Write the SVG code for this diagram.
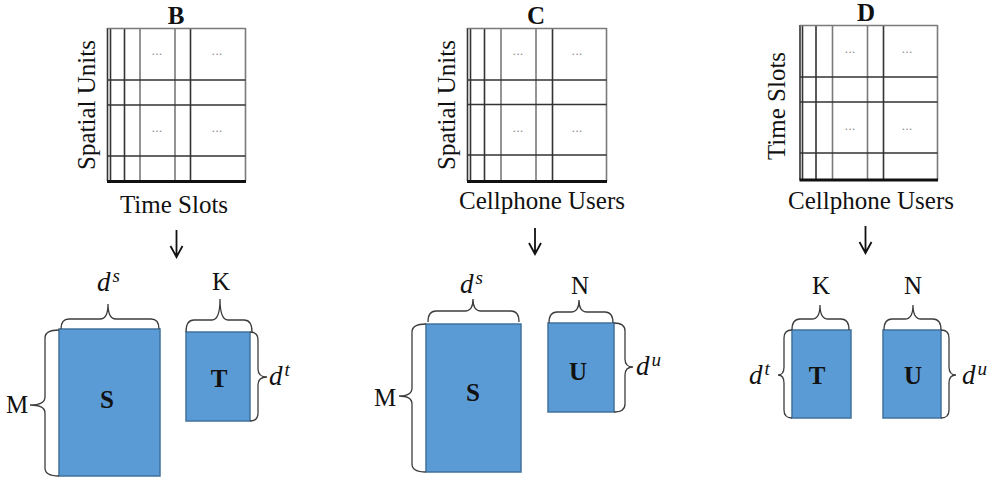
<svg xmlns="http://www.w3.org/2000/svg" width="1001" height="483" viewBox="0 0 1001 483">
  <style>
    .lbl { font-family: "Liberation Serif", "Times New Roman", serif; fill: #111; }
    .axis { font-size: 25px; }
    .title { font-size: 25px; font-weight: bold; text-anchor: middle; }
    .dim { font-size: 25px; text-anchor: middle; }
    .var { font-size: 27px; font-style: italic; }
    .sup { font-size: 19px; font-style: italic; }
    .mat { font-size: 25px; font-weight: bold; text-anchor: middle; }
    .dots { font-family: "Liberation Sans", Arial, sans-serif; font-size: 13px; fill: #8a8a8a; text-anchor: middle; }
    .gd { stroke: #333; stroke-width: 1.6; fill: none; }
    .gl { stroke: #7a7a7a; stroke-width: 1.6; fill: none; }
    .gb { stroke: #111; stroke-width: 3; fill: none; }
    .block { fill: #5b9bd5; stroke: #41719c; stroke-width: 1.5; }
    .brace { fill: none; stroke: #3c3c3c; stroke-width: 1.3; }
    .arrow { fill: none; stroke: #111; stroke-width: 1.8; }
  </style>

  <!-- ===== Panel B: spatial units x time slots ===== -->
  <g id="grid-b">
    <text class="lbl title" x="176" y="24">B</text>
    <path class="gd" d="M107.5 28 V181 M110.5 28 V181 M124.5 28 V181 M190.5 28 V181"/>
    <path class="gl" d="M140 28 V181 M175 28 V181 M245.5 28 V181 M107.5 28.5 H245.5"/>
    <path class="gd" d="M107.5 80 H245.5 M107.5 105 H245.5 M107.5 156 H245.5"/>
    <path class="gb" d="M107 181.5 H246"/>
    <text class="dots" x="157" y="55">...</text>
    <text class="dots" x="217" y="55">...</text>
    <text class="dots" x="157" y="132">...</text>
    <text class="dots" x="217" y="132">...</text>
    <text class="lbl axis" text-anchor="middle" transform="translate(95 105) rotate(-90)">Spatial Units</text>
    <text class="lbl axis" x="174" y="213" text-anchor="middle">Time Slots</text>
  </g>

  <g id="matrix-b-s">
    <rect class="block" x="59" y="329" width="101" height="147"/>
    <text class="lbl mat" x="107" y="408">S</text>
    <path class="brace" d="M61 329 Q61 319 69 319 H100 Q108 319 108 304 Q108 319 116 319 H151 Q159 319 159 329"/>
    <text class="lbl var" x="97" y="291">d<tspan class="sup" dx="2" dy="-9">s</tspan></text>
    <path class="brace" d="M59 330 Q45 330 45 338 V397 Q45 405 30 405 Q45 405 45 413 V468 Q45 476 59 476"/>
    <text class="lbl dim" x="17" y="413">M</text>
  </g>

  <g id="matrix-b-t">
    <rect class="block" x="186" y="332" width="64" height="89"/>
    <text class="lbl mat" x="219" y="387">T</text>
    <path class="brace" d="M186 332 Q186 320 194 320 H212 Q220 320 220 299 Q220 320 228 320 H244 Q252 320 252 332"/>
    <text class="lbl dim" x="221" y="290">K</text>
    <path class="brace" d="M250 332 Q258 332 258 340 V369 Q258 377 267 377 Q258 377 258 385 V413 Q258 421 250 421"/>
    <text class="lbl var" x="269" y="385">d<tspan class="sup" dx="2" dy="-9">t</tspan></text>
  </g>

  <!-- ===== Panel C: spatial units x cellphone users ===== -->
  <g id="grid-c">
    <text class="lbl title" x="536" y="24">C</text>
    <path class="gd" d="M467.5 28 V181 M470.5 28 V181 M484.5 28 V181 M552.5 28 V181"/>
    <path class="gl" d="M501 28 V181 M536 28 V181 M606.5 28 V181 M467.5 28.5 H606.5"/>
    <path class="gd" d="M467.5 80 H606.5 M467.5 104.5 H606.5 M467.5 155 H606.5"/>
    <path class="gb" d="M467 181.5 H607"/>
    <text class="dots" x="518" y="55">...</text>
    <text class="dots" x="577" y="55">...</text>
    <text class="dots" x="518" y="132">...</text>
    <text class="dots" x="577" y="132">...</text>
    <text class="lbl axis" text-anchor="middle" transform="translate(455 105) rotate(-90)">Spatial Units</text>
    <text class="lbl axis" x="542" y="209" text-anchor="middle">Cellphone Users</text>
  </g>

  <g id="matrix-c-s">
    <rect class="block" x="426" y="324" width="95" height="148"/>
    <text class="lbl mat" x="473" y="401">S</text>
    <path class="brace" d="M428 322 Q428 311 436 311 H465 Q473 311 473 299 Q473 311 481 311 H511 Q519 311 519 322"/>
    <text class="lbl var" x="460" y="293">d<tspan class="sup" dx="2" dy="-9">s</tspan></text>
    <path class="brace" d="M426 324 Q412 324 412 332 V388 Q412 396 399 396 Q412 396 412 404 V464 Q412 472 426 472"/>
    <text class="lbl dim" x="385" y="406">M</text>
  </g>

  <g id="matrix-c-u">
    <rect class="block" x="548" y="323" width="66" height="89"/>
    <text class="lbl mat" x="578" y="380">U</text>
    <path class="brace" d="M549 323 Q549 312 557 312 H571 Q579 312 579 300 Q579 312 587 312 H605 Q613 312 613 323"/>
    <text class="lbl dim" x="580" y="294">N</text>
    <path class="brace" d="M614 323 Q625 323 625 331 V359 Q625 367 633 367 Q625 367 625 375 V404 Q625 412 614 412"/>
    <text class="lbl var" x="636" y="375">d<tspan class="sup" dx="2" dy="-9">u</tspan></text>
  </g>

  <!-- ===== Panel D: time slots x cellphone users ===== -->
  <g id="grid-d">
    <text class="lbl title" x="866" y="21">D</text>
    <path class="gd" d="M800 25 V180 M802.5 25 V180 M816 25 V180 M883.5 25 V180"/>
    <path class="gl" d="M832.5 25 V180 M867.5 25 V180 M937.5 25 V180 M800 25.5 H937.5"/>
    <path class="gd" d="M800 77 H937.5 M800 102 H937.5 M800 153 H937.5"/>
    <path class="gb" d="M799.5 180 H938"/>
    <text class="dots" x="850" y="53">...</text>
    <text class="dots" x="907" y="53">...</text>
    <text class="dots" x="850" y="130">...</text>
    <text class="dots" x="907" y="130">...</text>
    <text class="lbl axis" text-anchor="middle" transform="translate(785 106) rotate(-90)">Time Slots</text>
    <text class="lbl axis" x="871" y="209" text-anchor="middle">Cellphone Users</text>
  </g>

  <g id="matrix-d-t">
    <rect class="block" x="792" y="330" width="59" height="88"/>
    <text class="lbl mat" x="817" y="384">T</text>
    <path class="brace" d="M792 330 Q792 319 800 319 H812 Q820 319 820 305 Q820 319 828 319 H841 Q849 319 849 330"/>
    <text class="lbl dim" x="821" y="294">K</text>
    <path class="brace" d="M792 330 Q784 330 784 338 V367 Q784 375 778 375 Q784 375 784 383 V410 Q784 418 792 418"/>
    <text class="lbl var" x="749" y="384">d<tspan class="sup" dx="2" dy="-9">t</tspan></text>
  </g>

  <g id="matrix-d-u">
    <rect class="block" x="883" y="330" width="58" height="88"/>
    <text class="lbl mat" x="913" y="384">U</text>
    <path class="brace" d="M884 330 Q884 319 892 319 H905 Q913 319 913 305 Q913 319 921 319 H933 Q941 319 941 330"/>
    <text class="lbl dim" x="913" y="294">N</text>
    <path class="brace" d="M941 330 Q949 330 949 338 V367 Q949 375 956 375 Q949 375 949 383 V410 Q949 418 941 418"/>
    <text class="lbl var" x="962" y="384">d<tspan class="sup" dx="2" dy="-9">u</tspan></text>
  </g>

  <!-- ===== Factorisation arrows ===== -->
  <g id="connectors">
    <path class="arrow" d="M176.5 230 V257 M170.5 246 L176.5 257 L182.5 246"/>
    <path class="arrow" d="M535 228 V254 M529 243 L535 254 L541 243"/>
    <path class="arrow" d="M865.5 226 V253 M859.5 242 L865.5 253 L871.5 242"/>
  </g>
</svg>
